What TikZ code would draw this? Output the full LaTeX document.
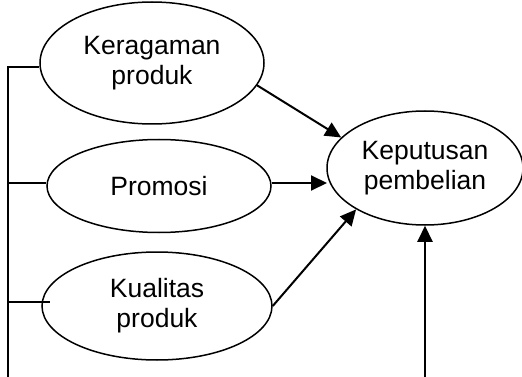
\documentclass[tikz,border=0pt]{standalone}
\usepackage{fontspec}
\setmainfont{Liberation Sans}
\usetikzlibrary{shapes.geometric,arrows.meta}
\begin{document}
\begin{tikzpicture}[x=1pt,y=1pt,
  oval/.style={draw,ellipse,line width=1.5pt,inner sep=0pt,align=center,font=\fontsize{26.5}{30}\selectfont},
  link/.style={line width=2pt},
  arr/.style={line width=2pt,-{Triangle[length=16pt,width=15pt]}}]
\useasboundingbox (0,0) rectangle (522,-377);
\node[oval,minimum width=224pt,minimum height=122pt] (k) at (152,-63) {Keragaman\\produk};
\node[oval,minimum width=224pt,minimum height=93pt] (p) at (159,-186) {Promosi};
\node[oval,minimum width=230pt,minimum height=108pt] (q) at (157,-306) {Kualitas\\produk};
\node[oval,minimum width=196pt,minimum height=114pt] (kp) at (425,-168) {Keputusan\\pembelian};
\coordinate (vt) at (8,-67);
\coordinate (vb) at (8,-377);
\coordinate (ab) at (425,-377);
\draw[link] (vb) -- (vt) -- (k.west |- vt);
\draw[link] (vt |- 0,-183) -- (p.west |- 0,-183);
\draw[line width=1.4pt] (vt |- 0,-302) -- (50,-302);
\draw[arr] (k.-12) -- (kp.160);
\draw[arr] (p.east |- 0,-183) -- (327,-183);
\draw[arr] (q.east) -- (kp.211);
\draw[arr] (ab) -- (kp.south);
\end{tikzpicture}
\end{document}
